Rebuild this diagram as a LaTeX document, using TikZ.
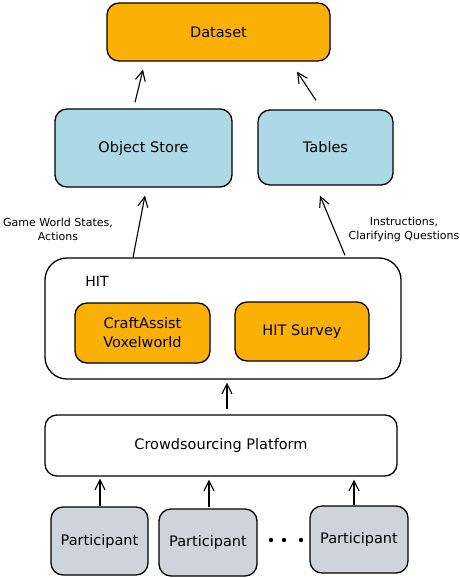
\documentclass[tikz,border=0pt]{standalone}
\usepackage{fontspec}
\setmainfont{DejaVu Sans}
\usetikzlibrary{arrows.meta}
\definecolor{orange}{HTML}{FAB005}
\definecolor{bleu}{HTML}{ADD8E6}
\definecolor{gris}{HTML}{CED4DA}
\begin{document}
\begin{tikzpicture}[x=1pt, y=-1pt,
  boite/.style = {draw, line width=1.3pt, rounded corners=12pt, font=\fontsize{14.5}{19}\selectfont, align=center},
  fleche/.style = {-{Straight Barb[length=10pt,width=10pt]}, line width=1.1pt}]
  \useasboundingbox (0,0) rectangle (460,578);

  % Les boites
  \node[boite, fill=orange, minimum width=223pt, minimum height=58pt] (dataset) at (218.5,32) {Dataset};
  \node[boite, fill=bleu, minimum width=177pt, minimum height=78pt] (objstore) at (143.5,148) {Object Store};
  \node[boite, fill=bleu, minimum width=135pt, minimum height=75pt] (tables) at (325.5,147.5) {Tables};
  \node[boite, rounded corners=22pt, minimum width=356pt, minimum height=121pt] (hit) at (223,318.5) {};
  \node[font=\fontsize{14}{16}\selectfont] (hitlbl) at (97,281) {HIT};
  \node[boite, fill=orange, minimum width=135pt, minimum height=60pt] (craft) at (142.5,333) {CraftAssist\\Voxelworld};
  \node[boite, fill=orange, minimum width=134pt, minimum height=59pt] (survey) at (302,331.5) {HIT Survey};
  \node[boite, minimum width=352pt, minimum height=61pt] (crowd) at (221,445.5) {Crowdsourcing Platform};
  \node[boite, fill=gris, minimum width=97pt, minimum height=68pt] (p1) at (99.5,541) {Participant};
  \node[boite, fill=gris, minimum width=98pt, minimum height=67pt] (p2) at (208,542.5) {Participant};
  \node[boite, fill=gris, minimum width=98pt, minimum height=67pt] (p3) at (359,539.5) {Participant};

  % Les points
  \fill (271,540) circle (2.2);
  \fill (284,540) circle (2.2);
  \fill (301,540) circle (2.2);

  % Les fleches
  \draw[fleche] ([xshift=-8.5pt,yshift=6pt]objstore.north) -- ([xshift=-75.5pt,yshift=-8pt]dataset.south);
  \draw[fleche] ([xshift=-9.5pt,yshift=9pt]tables.north) -- ([xshift=78.5pt,yshift=-10pt]dataset.south);
  \draw[fleche] ([xshift=-90pt]hit.north) -- ([xshift=1.5pt,yshift=-8pt]objstore.south);
  \draw[fleche] ([xshift=122pt,yshift=2pt]hit.north) -- ([xshift=-5.5pt,yshift=-10pt]tables.south);
  \draw[fleche] ([xshift=6pt,yshift=5pt]crowd.north) -- ([xshift=4pt,yshift=-3pt]hit.south);
  \draw[fleche] ([xshift=0.5pt]p1.north) -- ([xshift=-121pt,yshift=-2pt]crowd.south);
  \draw[fleche] ([xshift=1pt,yshift=1pt]p2.north) -- ([xshift=-12pt,yshift=-3pt]crowd.south);
  \draw[fleche] ([xshift=-5pt]p3.north) -- ([xshift=133pt,yshift=-3pt]crowd.south);

  % Les etiquettes
  \node[font=\fontsize{11}{14}\selectfont, align=center] (lblgauche) at (58,229) {Game World States,\\Actions};
  \node[font=\fontsize{11}{14}\selectfont, align=center] (lbldroite) at (404,229) {Instructions,\\Clarifying Questions};
\end{tikzpicture}
\end{document}
